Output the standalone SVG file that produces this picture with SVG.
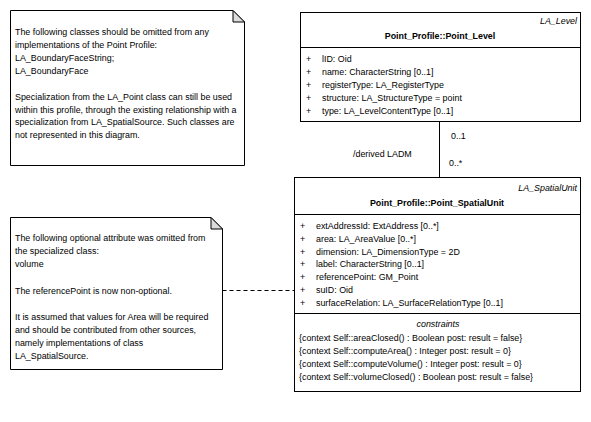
<svg xmlns="http://www.w3.org/2000/svg" width="591" height="422" viewBox="0 0 591 422">
  <style>
    text { font-family: "Liberation Sans", Arial, sans-serif; font-size: 8.9px; fill: #000; }
    .b { font-weight: bold; }
    .i { font-style: italic; }
    .box { fill: #fff; stroke: #000; stroke-width: 1; }
    .ln { stroke: #000; stroke-width: 1; fill: none; }
    .fold { fill: #dcdcdc; stroke: #000; stroke-width: 1; }
  </style>
  <rect width="591" height="422" fill="#fff"/>

  <!-- connectors -->
  <g id="connectors">
    <line class="ln" x1="439.5" y1="121.5" x2="439.5" y2="177.5"/>
    <text x="353" y="157">/derived LADM</text>
    <text x="451" y="139">0..1</text>
    <text x="449" y="166">0..*</text>
    <line class="ln" x1="222.5" y1="290.5" x2="294" y2="290.5" stroke-dasharray="4,3"/>
  </g>

  <!-- note: omitted classes -->
  <g id="note1">
    <path class="box" d="M10.5,10.5 H233 L244.5,22 V165.5 H10.5 Z"/>
    <path class="fold" d="M233,10.5 V22 H244.5 Z"/>
    <text x="15" y="35">The following classes should be omitted from any</text>
    <text x="15" y="47.5">implementations of the Point Profile:</text>
    <text x="15" y="60.5">LA_BoundaryFaceString;</text>
    <text x="15" y="73.5">LA_BoundaryFace</text>
    <text x="15" y="99.5">Specialization from the LA_Point class can still be used</text>
    <text x="15" y="112.5">within this profile, through the existing relationship with a</text>
    <text x="15" y="125">specialization from LA_SpatialSource. Such classes are</text>
    <text x="15" y="138">not represented in this diagram.</text>
  </g>

  <!-- note: omitted attribute -->
  <g id="note2">
    <path class="box" d="M10.5,217.5 H211 L222.5,229 V369.5 H10.5 Z"/>
    <path class="fold" d="M211,217.5 V229 H222.5 Z"/>
    <text x="15" y="240.5">The following optional attribute was omitted from</text>
    <text x="15" y="254">the specialized class:</text>
    <text x="15" y="267">volume</text>
    <text x="15" y="293.5">The referencePoint is now non-optional.</text>
    <text x="15" y="319.5">It is assumed that values for Area will be required</text>
    <text x="15" y="332.5">and should be contributed from other sources,</text>
    <text x="15" y="345.5">namely implementations of class</text>
    <text x="15" y="358.5">LA_SpatialSource.</text>
  </g>

  <!-- class Point_Level -->
  <g id="Point_Level">
    <rect class="box" x="300.5" y="12.5" width="280" height="109"/>
    <line class="ln" x1="300.5" y1="47.5" x2="580.5" y2="47.5"/>
    <text class="i" x="577" y="23.5" text-anchor="end">LA_Level</text>
    <text class="b" x="440" y="38.5" text-anchor="middle">Point_Profile::Point_Level</text>
    <g>
      <text x="306" y="61.5">+</text><text x="322" y="61.5">lID: Oid</text>
      <text x="306" y="74.5">+</text><text x="322" y="74.5">name: CharacterString [0..1]</text>
      <text x="306" y="87.5">+</text><text x="322" y="87.5">registerType: LA_RegisterType</text>
      <text x="306" y="100.5">+</text><text x="322" y="100.5">structure: LA_StructureType = point</text>
      <text x="306" y="113.5">+</text><text x="322" y="113.5">type: LA_LevelContentType [0..1]</text>
    </g>
  </g>

  <!-- class Point_SpatialUnit -->
  <g id="Point_SpatialUnit">
    <rect class="box" x="294.5" y="177.5" width="286" height="214"/>
    <line class="ln" x1="294.5" y1="214.5" x2="580.5" y2="214.5"/>
    <line class="ln" x1="294.5" y1="313.5" x2="580.5" y2="313.5"/>
    <text class="i" x="577" y="190.5" text-anchor="end">LA_SpatialUnit</text>
    <text class="b" x="437" y="205.5" text-anchor="middle">Point_Profile::Point_SpatialUnit</text>
    <g>
      <text x="300" y="228.5">+</text><text x="316" y="228.5">extAddressId: ExtAddress [0..*]</text>
      <text x="300" y="241.5">+</text><text x="316" y="241.5">area: LA_AreaValue [0..*]</text>
      <text x="300" y="254.5">+</text><text x="316" y="254.5">dimension: LA_DimensionType = 2D</text>
      <text x="300" y="267">+</text><text x="316" y="267">label: CharacterString [0..1]</text>
      <text x="300" y="280">+</text><text x="316" y="280">referencePoint: GM_Point</text>
      <text x="300" y="293">+</text><text x="316" y="293">suID: Oid</text>
      <text x="300" y="306">+</text><text x="316" y="306">surfaceRelation: LA_SurfaceRelationType [0..1]</text>
    </g>
    <text class="i" x="438" y="326.5" text-anchor="middle">constraints</text>
    <g>
      <text x="299" y="340.5">{context Self::areaClosed() : Boolean post: result = false}</text>
      <text x="299" y="353.5">{context Self::computeArea() : Integer post: result = 0}</text>
      <text x="299" y="366.5">{context Self::computeVolume() : Integer post: result = 0}</text>
      <text x="299" y="379.5">{context Self::volumeClosed() : Boolean post: result = false}</text>
    </g>
  </g>
</svg>
